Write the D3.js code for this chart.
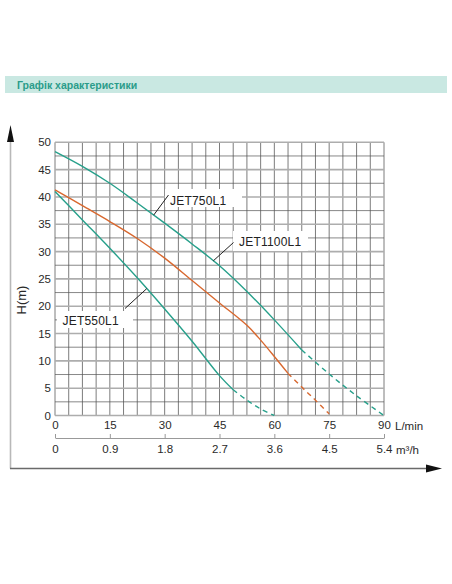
<!DOCTYPE html>
<html>
<head>
<meta charset="utf-8">
<script src="https://cdn.jsdelivr.net/npm/d3@7"></script>
<style>
  html, body { margin: 0; padding: 0; background: #fff; }
  svg text { font-family: "Liberation Sans", Arial, sans-serif; }
</style>
</head>
<body>
<svg id="chart"></svg>
<script>
// tick labels
const flowTicks = [0, 15, 30, 45, 60, 75, 90];
const m3hTicks = [0, 0.9, 1.8, 2.7, 3.6, 4.5, 5.4];
const headTicks = [0, 5, 10, 15, 20, 25, 30, 35, 40, 45, 50];

// JET750L1 (upper teal)
const jet750Q = [0, 7.5, 15, 22.5, 30, 37.5, 45, 52.5, 60, 67.5];
const jet750H = [48.3, 45.6, 42.5, 38.9, 35.2, 31.4, 27.4, 22.7, 17.5, 12.0];
const jet750DashQ = [67.5, 75, 82.5, 90];
const jet750DashH = [12.0, 7.6, 3.6, 0];

// JET1100L1 (orange)
const jet1100Q = [0, 7.5, 15, 22.5, 30, 37.5, 45, 52.5, 56.25, 60, 63.75];
const jet1100H = [41.3, 38.4, 35.5, 32.4, 28.8, 24.7, 20.6, 16.5, 13.8, 10.8, 7.7];
const jet1100DashQ = [63.75, 67.5, 71.25, 75];
const jet1100DashH = [7.7, 5.2, 2.8, 0.3];

// JET550L1 (lower teal)
const jet550Q = [0, 7.5, 15, 22.5, 30, 37.5, 45, 48.75];
const jet550H = [41.0, 35.8, 30.6, 25.2, 19.5, 13.6, 7.3, 4.7];
const jet550DashQ = [48.75, 52.5, 56.25, 60];
const jet550DashH = [4.7, 2.8, 1.2, 0];

const width = 452;
const height = 584;
const teal = "#27a08b";
const orange = "#d8682f";

const xScale = d3.scaleLinear().domain([0, 90]).range([55, 384]);
const x2Scale = d3.scaleLinear().domain([0, 5.4]).range([55, 384]);
const yScale = d3.scaleLinear().domain([0, 50]).range([415.5, 142.3]);

const chart = d3
  .select("#chart")
  .attr("width", width)
  .attr("height", height)
  .attr("viewBox", `0 0 ${width} ${height}`);

chart.append("rect").attr("width", width).attr("height", height).attr("fill", "#fff");

// header strip
chart
  .append("rect")
  .attr("x", 5)
  .attr("y", 76)
  .attr("width", 442)
  .attr("height", 17)
  .attr("fill", "#c9e8e2");

chart
  .append("text")
  .attr("x", 17)
  .attr("y", 88.5)
  .attr("font-size", 10.5)
  .attr("font-weight", "bold")
  .attr("fill", "#2b9c8a")
  .text("Графік характеристики");

// grid
const grid = chart.append("g").attr("class", "grid");

grid
  .selectAll("line.v")
  .data(d3.range(0, 90.01, 3.75))
  .enter()
  .append("line")
  .attr("class", "v")
  .attr("x1", (d) => xScale(d))
  .attr("x2", (d) => xScale(d))
  .attr("y1", yScale(0))
  .attr("y2", yScale(50))
  .attr("stroke", "#5a5a5a")
  .attr("stroke-width", 0.8);

grid
  .selectAll("line.h")
  .data(d3.range(0, 50.01, 2.5))
  .enter()
  .append("line")
  .attr("class", "h")
  .attr("x1", xScale(0))
  .attr("x2", xScale(90))
  .attr("y1", (d) => yScale(d))
  .attr("y2", (d) => yScale(d))
  .attr("stroke", (d) => (d % 5 === 0 ? "#adadad" : "#555"))
  .attr("stroke-width", (d) => (d % 5 === 0 ? 1.6 : 0.7));

// white boxes behind the labels
const boxes = [
  [165, 189, 77, 18],
  [233, 231, 75, 20],
  [57, 311, 76, 17],
];
chart
  .selectAll("rect.box")
  .data(boxes)
  .enter()
  .append("rect")
  .attr("class", "box")
  .attr("x", (d) => d[0])
  .attr("y", (d) => d[1])
  .attr("width", (d) => d[2])
  .attr("height", (d) => d[3])
  .attr("fill", "#fff");

// curves
const zip = (qs, hs) => qs.map((q, i) => [q, hs[i]]);
const line = d3
  .line()
  .x((d) => xScale(d[0]))
  .y((d) => yScale(d[1]))
  .curve(d3.curveCatmullRom.alpha(0.5));

const curves = [
  { pts: zip(jet750Q, jet750H), color: teal, dash: null },
  { pts: zip(jet750DashQ, jet750DashH), color: teal, dash: "5,4" },
  { pts: zip(jet1100Q, jet1100H), color: orange, dash: null },
  { pts: zip(jet1100DashQ, jet1100DashH), color: orange, dash: "5,4" },
  { pts: zip(jet550Q, jet550H), color: teal, dash: null },
  { pts: zip(jet550DashQ, jet550DashH), color: teal, dash: "5,4" },
];

chart
  .selectAll("path.curve")
  .data(curves)
  .enter()
  .append("path")
  .attr("class", "curve")
  .attr("d", (d) => line(d.pts))
  .attr("fill", "none")
  .attr("stroke", (d) => d.color)
  .attr("stroke-width", 1.4)
  .attr("stroke-dasharray", (d) => d.dash);

// labels with leader lines (leaders start on a curve)
const headAt = (qs, hs, q) => {
  const i = Math.max(1, d3.bisectLeft(qs, q));
  const t = (q - qs[i - 1]) / (qs[i] - qs[i - 1]);
  return hs[i - 1] + t * (hs[i] - hs[i - 1]);
};

const labels = [
  { name: "JET750L1", q: 27, h: headAt(jet750Q, jet750H, 27), lx: 168.5, ly: 195, tx: 170, ty: 204.5 },
  { name: "JET1100L1", q: 43.3, h: headAt(jet750Q, jet750H, 43.3), lx: 233.5, ly: 242.5, tx: 239, ty: 246 },
  { name: "JET550L1", q: 25.1, h: headAt(jet550Q, jet550H, 25.1), lx: 125, ly: 308.5, tx: 62.5, ty: 324.5 },
];

chart
  .selectAll("line.leader")
  .data(labels)
  .enter()
  .append("line")
  .attr("class", "leader")
  .attr("x1", (d) => xScale(d.q))
  .attr("y1", (d) => yScale(d.h))
  .attr("x2", (d) => d.lx)
  .attr("y2", (d) => d.ly)
  .attr("stroke", "#222")
  .attr("stroke-width", 1);

chart
  .selectAll("text.label")
  .data(labels)
  .enter()
  .append("text")
  .attr("class", "label")
  .attr("x", (d) => d.tx)
  .attr("y", (d) => d.ty)
  .attr("font-size", 12)
  .attr("letter-spacing", 0.2)
  .attr("fill", "#222")
  .text((d) => d.name);

// axes
const yAxis = chart
  .append("g")
  .attr("transform", `translate(${xScale(0)}, 0)`)
  .call(d3.axisLeft(yScale).tickValues(headTicks).tickSize(0).tickPadding(4));

const xAxis = chart
  .append("g")
  .attr("transform", `translate(0, ${yScale(0)})`)
  .call(d3.axisBottom(xScale).tickValues(flowTicks).tickSize(0).tickPadding(5));

yAxis.select(".domain").remove();
xAxis.select(".domain").remove();

const x2Axis = chart
  .append("g")
  .attr("transform", "translate(0, 438)")
  .call(
    d3
      .axisBottom(x2Scale)
      .tickValues(m3hTicks)
      .tickSize(-4)
      .tickSizeOuter(0)
      .tickPadding(7)
      .tickFormat(d3.format("~g"))
  );

x2Axis.select(".domain").attr("stroke", "#999");
x2Axis.selectAll(".tick line").attr("stroke", "#999");

chart
  .selectAll(".tick text")
  .attr("font-size", 11.5)
  .attr("fill", "#2a2a2a")
  .attr("font-family", "Liberation Sans, Arial, sans-serif");

chart
  .append("text")
  .attr("x", 395)
  .attr("y", yScale(0) + 14)
  .attr("font-size", 11.5)
  .attr("fill", "#2a2a2a")
  .text("L/min");

chart
  .append("text")
  .attr("x", 396)
  .attr("y", 453.5)
  .attr("font-size", 11.5)
  .attr("fill", "#2a2a2a")
  .text("m³/h");

chart
  .append("text")
  .attr("transform", "translate(26, 300) rotate(-90)")
  .attr("text-anchor", "middle")
  .attr("font-size", 13)
  .attr("fill", "#2a2a2a")
  .text("H(m)");

// outer arrows
chart
  .append("line")
  .attr("x1", 10.5)
  .attr("x2", 10.5)
  .attr("y1", 140)
  .attr("y2", 468.5)
  .attr("stroke", "#b8b8b8")
  .attr("stroke-width", 1.6);

chart
  .append("line")
  .attr("x1", 10)
  .attr("x2", 428)
  .attr("y1", 468.5)
  .attr("y2", 468.5)
  .attr("stroke", "#6a6a6a")
  .attr("stroke-width", 1.6);

chart
  .append("path")
  .attr("d", "M10.5,125 L14,142 L7,142 Z")
  .attr("fill", "#111");

chart
  .append("path")
  .attr("d", "M442,468.5 L426,464.5 L426,472.5 Z")
  .attr("fill", "#111");
</script>
</body>
</html>
